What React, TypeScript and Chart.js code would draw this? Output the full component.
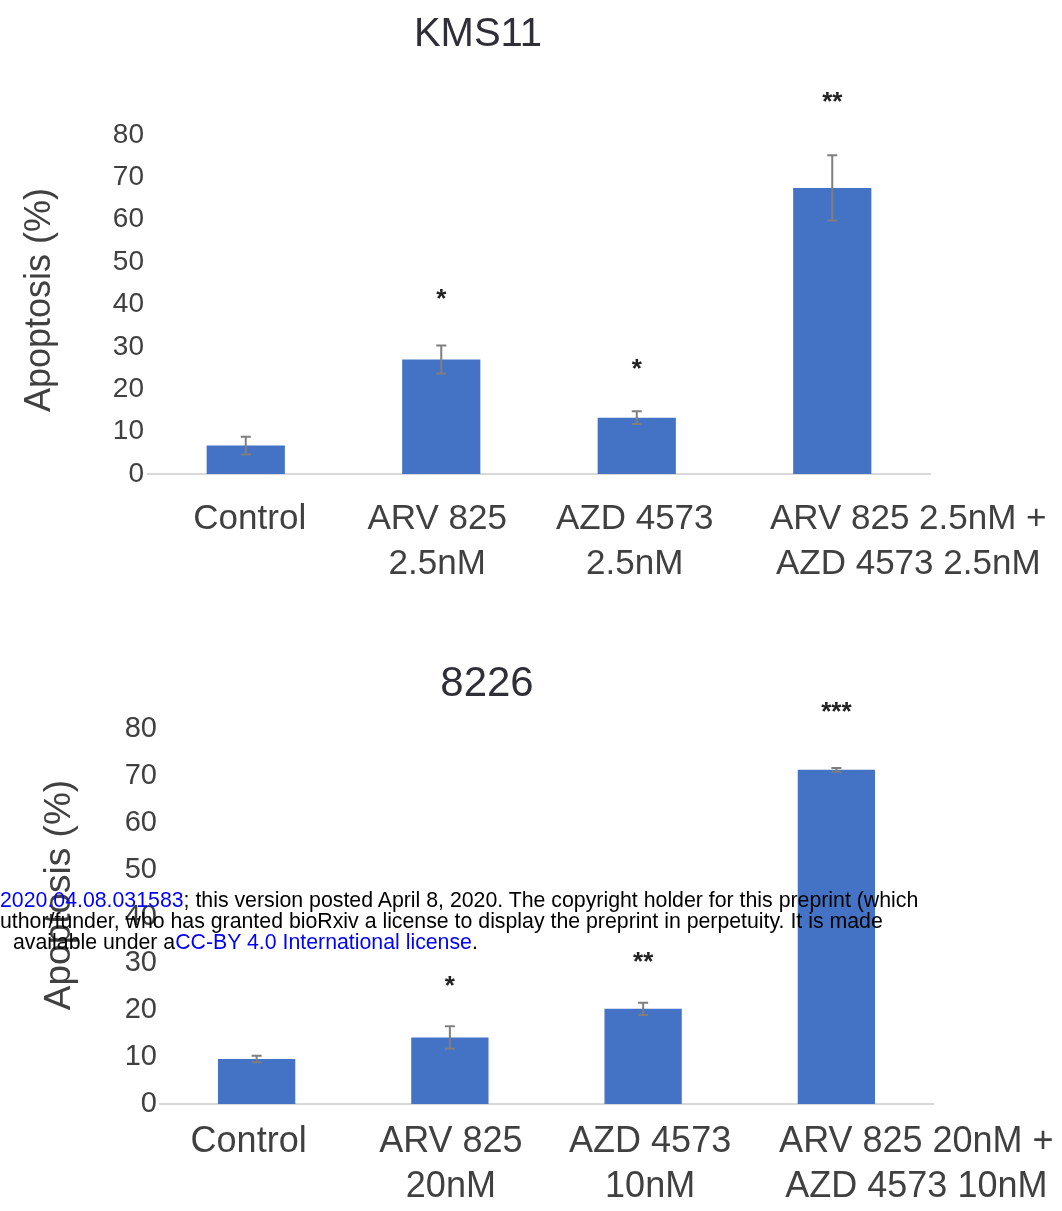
import React, { useEffect, useRef } from "react";
import { Chart, registerables } from "chart.js";

Chart.register(...registerables);

// ---------- DATA ----------
const kmsTitle = "KMS11";
const kmsCategories: string[][] = [
  ["Control"],
  ["ARV 825", "2.5nM"],
  ["AZD 4573", "2.5nM"],
  ["ARV 825 2.5nM +", "AZD 4573 2.5nM"],
];
const kmsValues = [6.7, 27.0, 13.3, 67.5];
const kmsErrors = [2.1, 3.3, 1.5, 7.7];
const kmsStars = ["", "*", "*", "**"];
const kmsStarLevels = [0, 43, 26.5, 89.5];

const rpmiTitle = "8226";
const rpmiCategories: string[][] = [
  ["Control"],
  ["ARV 825", "20nM"],
  ["AZD 4573", "10nM"],
  ["ARV 825 20nM +", "AZD 4573 10nM"],
];
const rpmiValues = [9.6, 14.2, 20.3, 71.3];
const rpmiErrors = [0.7, 2.4, 1.3, 0.4];
const rpmiStars = ["", "*", "**", "***"];
const rpmiStarLevels = [0, 26.7, 31.8, 85];

const yAxisTitle = "Apoptosis (%)";
const yMin = 0;
const yMax = 80;
const yStep = 10;

// ---------- STYLE ----------
const FONT = "'Liberation Sans', Arial, Helvetica, sans-serif";
const BAR_COLOR = "#4472C4";
const TEXT_COLOR = "#404040";
const ERR_COLOR = "#7f7f7f";
const AXIS_COLOR = "#d9d9d9";
const W = 1062;

type Layout = {
  top: number; // page top of canvas
  height: number;
  left: number;
  right: number;
  areaTop: number;
  areaBottom: number;
  titleX: number;
  titleY: number;
  titleSize: number;
  tickSize: number;
  tickPad: number;
  yTitleX: number;
  yTitleY: number;
  yTitleSize: number;
  xLabelSize: number;
  xLabelY: number;
  xLabelLine: number;
  xLabelOffsets: number[];
  starSize: number;
};

const layoutKms: Layout = {
  top: 0,
  height: 600,
  left: 148,
  right: 930,
  areaTop: 135,
  areaBottom: 474,
  titleX: 478,
  titleY: 35,
  titleSize: 40,
  tickSize: 28,
  tickPad: 4,
  yTitleX: 40,
  yTitleY: 300,
  yTitleSize: 36,
  xLabelSize: 35,
  xLabelY: 519,
  xLabelLine: 45,
  xLabelOffsets: [4, -4, -2, 76],
  starSize: 26,
};

const layoutRpmi: Layout = {
  top: 600,
  height: 611,
  left: 160,
  right: 933,
  areaTop: 129,
  areaBottom: 504,
  titleX: 487,
  titleY: 84,
  titleSize: 42,
  tickSize: 29,
  tickPad: 3,
  yTitleX: 60,
  yTitleY: 295,
  yTitleSize: 37,
  xLabelSize: 36,
  xLabelY: 542,
  xLabelLine: 45,
  xLabelOffsets: [-8, 1, 7, 80],
  starSize: 26,
};

type Spec = {
  title: string;
  categories: string[][];
  values: number[];
  errors: number[];
  stars: string[];
  starLevels: number[];
  layout: Layout;
};

function BarPanel({ spec }: { spec: Spec }) {
  const ref = useRef<HTMLCanvasElement | null>(null);
  useEffect(() => {
    const canvas = ref.current;
    if (!canvas) return;
    const L = spec.layout;

    const overlay = {
      id: "overlay",
      afterDatasetsDraw(chart: any) {
        const ctx = chart.ctx;
        const x = chart.scales.x;
        const y = chart.scales.y;
        ctx.save();
        ctx.strokeStyle = ERR_COLOR;
        ctx.lineWidth = 2;
        spec.values.forEach((v, i) => {
          const cx = x.getPixelForValue(i);
          const yt = y.getPixelForValue(v + spec.errors[i]);
          const yb = y.getPixelForValue(v - spec.errors[i]);
          ctx.beginPath();
          ctx.moveTo(cx, yt);
          ctx.lineTo(cx, yb);
          ctx.moveTo(cx - 5, yt);
          ctx.lineTo(cx + 5, yt);
          ctx.moveTo(cx - 5, yb);
          ctx.lineTo(cx + 5, yb);
          ctx.stroke();
        });
        ctx.restore();
      },
      afterDraw(chart: any) {
        const ctx = chart.ctx;
        const x = chart.scales.x;
        const y = chart.scales.y;
        ctx.save();
        // title
        ctx.fillStyle = "#2f2f38";
        ctx.font = `${L.titleSize}px ${FONT}`;
        ctx.textAlign = "center";
        ctx.textBaseline = "middle";
        ctx.fillText(spec.title, L.titleX, L.titleY);
        // y axis title
        ctx.save();
        ctx.translate(L.yTitleX, L.yTitleY);
        ctx.rotate(-Math.PI / 2);
        ctx.fillStyle = TEXT_COLOR;
        ctx.font = `${L.yTitleSize}px ${FONT}`;
        ctx.fillText(yAxisTitle, 0, 0);
        ctx.restore();
        // x labels
        ctx.fillStyle = TEXT_COLOR;
        ctx.font = `${L.xLabelSize}px ${FONT}`;
        spec.categories.forEach((lines, i) => {
          const cx = x.getPixelForValue(i) + L.xLabelOffsets[i];
          lines.forEach((t, k) => {
            ctx.fillText(t, cx, L.xLabelY + k * L.xLabelLine);
          });
        });
        // significance stars
        ctx.fillStyle = "#222";
        ctx.font = `bold ${L.starSize}px ${FONT}`;
        ctx.textBaseline = "alphabetic";
        spec.stars.forEach((s, i) => {
          if (!s) return;
          const cx = x.getPixelForValue(i);
          const cy = y.getPixelForValue(spec.starLevels[i]);
          ctx.fillText(s, cx, cy + 0.57 * L.starSize);
        });
        ctx.restore();
      },
    };

    const chart = new Chart(canvas, {
      type: "bar",
      data: {
        labels: spec.categories.map((c) => c.join(" ")),
        datasets: [
          {
            data: spec.values,
            backgroundColor: BAR_COLOR,
            borderWidth: 0,
            categoryPercentage: 1,
            barPercentage: 0.4,
          },
        ],
      },
      options: {
        responsive: false,
        animation: false,
        events: [],
        layout: {
          padding: { top: L.areaTop, left: 0, right: W - L.right, bottom: 0 },
        },
        plugins: {
          legend: { display: false },
          title: { display: false },
          tooltip: { enabled: false },
        },
        scales: {
          x: {
            type: "category",
            offset: true,
            grid: { display: false },
            border: { display: true, color: AXIS_COLOR, width: 2 },
            ticks: { display: false },
            afterFit: (s: any) => {
              s.height = L.height - L.areaBottom;
            },
          },
          y: {
            min: yMin,
            max: yMax,
            grid: { display: false, drawTicks: false },
            border: { display: false },
            ticks: {
              stepSize: yStep,
              padding: L.tickPad,
              color: TEXT_COLOR,
              font: { family: FONT, size: L.tickSize },
            },
            afterFit: (s: any) => {
              s.width = L.left;
            },
          },
        },
      },
      plugins: [overlay],
    } as any);
    return () => chart.destroy();
  }, [spec]);

  const L = spec.layout;
  return (
    <canvas
      ref={ref}
      width={W}
      height={L.height}
      style={{ position: "absolute", left: 0, top: L.top, width: W, height: L.height, display: "block" }}
    />
  );
}

const specs: Spec[] = [
  {
    title: kmsTitle,
    categories: kmsCategories,
    values: kmsValues,
    errors: kmsErrors,
    stars: kmsStars,
    starLevels: kmsStarLevels,
    layout: layoutKms,
  },
  {
    title: rpmiTitle,
    categories: rpmiCategories,
    values: rpmiValues,
    errors: rpmiErrors,
    stars: rpmiStars,
    starLevels: rpmiStarLevels,
    layout: layoutRpmi,
  },
];

const noteStyle: React.CSSProperties = {
  position: "absolute",
  whiteSpace: "nowrap",
  fontFamily: FONT,
  fontSize: 21.3,
  lineHeight: "21px",
  color: "#000",
};
const linkColor = "#0000ff";

export default function App() {
  return (
    <div style={{ position: "absolute", left: 0, top: 0, width: W, height: 1211, background: "#fff", overflow: "hidden" }}>
      {specs.map((s, i) => (
        <BarPanel key={i} spec={s} />
      ))}
      <div style={{ ...noteStyle, left: 0, top: 890 }}>
        <span style={{ color: linkColor }}>2020.04.08.031583</span>; this version posted April 8, 2020. The copyright holder for this preprint (which
      </div>
      <div style={{ ...noteStyle, left: 0, top: 911 }}>
        uthor/funder, who has granted bioRxiv a license to display the preprint in perpetuity. It is made
      </div>
      <div style={{ ...noteStyle, left: 13, top: 932 }}>
        available under a<span style={{ color: linkColor }}>CC-BY 4.0 International license</span>.
      </div>
    </div>
  );
}
